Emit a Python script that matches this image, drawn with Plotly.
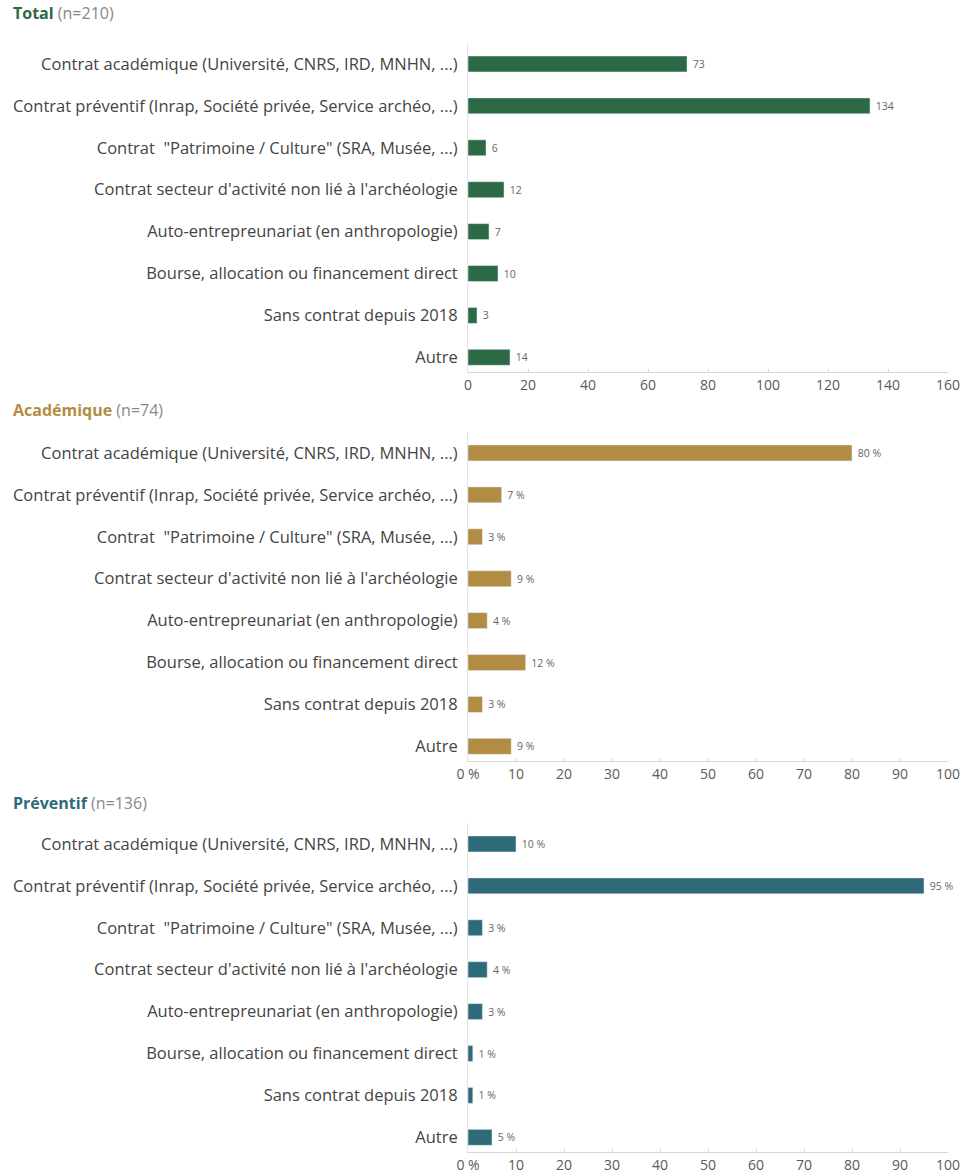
import plotly.graph_objects as go

categories = [
    "Contrat académique (Université, CNRS, IRD, MNHN, ...)",
    "Contrat préventif (Inrap, Société privée, Service archéo, ...)",
    "Contrat  \"Patrimoine / Culture\" (SRA, Musée, ...)",
    "Contrat secteur d'activité non lié à l'archéologie",
    "Auto-entrepreunariat (en anthropologie)",
    "Bourse, allocation ou financement direct",
    "Sans contrat depuis 2018",
    "Autre",
]
total_values = [73, 134, 6, 12, 7, 10, 3, 14]
academique_pct = [80, 7, 3, 9, 4, 12, 3, 9]
preventif_pct = [10, 95, 3, 4, 3, 1, 1, 5]

total_ticks = [0, 20, 40, 60, 80, 100, 120, 140, 160]
pct_ticks = [0, 10, 20, 30, 40, 50, 60, 70, 80, 90, 100]
pct_ticktext = ["0 %"] + [str(t) for t in pct_ticks[1:]]

H = 1174
def py(px):
    return 1 - px / H

panels = [
    dict(vals=total_values, text=["\u00a0" + str(v) for v in total_values], color="#2b6a45",
         title="Total", n="(n=210)", rng=[0, 160], tv=total_ticks, tt=[str(t) for t in total_ticks],
         top=43, bottom=372, ty=13),
    dict(vals=academique_pct, text=[f"\u00a0{v} %" for v in academique_pct], color="#b38c43",
         title="Académique", n="(n=74)", rng=[0, 100], tv=pct_ticks, tt=pct_ticktext,
         top=432, bottom=761, ty=410),
    dict(vals=preventif_pct, text=[f"\u00a0{v} %" for v in preventif_pct], color="#2e6a78",
         title="Préventif", n="(n=136)", rng=[0, 100], tv=pct_ticks, tt=pct_ticktext,
         top=823, bottom=1152, ty=803),
]

fig = go.Figure()
annotations = []
for i, p in enumerate(panels):
    sfx = "" if i == 0 else str(i + 1)
    fig.add_trace(go.Bar(
        x=p["vals"], y=categories, orientation="h",
        marker=dict(color=p["color"]), width=0.38,
        text=p["text"], textposition="outside", cliponaxis=False,
        textfont=dict(size=10.5, color="#666666"),
        xaxis="x" + sfx, yaxis="y" + sfx, showlegend=False,
    ))
    fig.layout["xaxis" + sfx] = dict(
        domain=[0, 1], range=p["rng"], anchor="y" + sfx, automargin=False,
        tickvals=p["tv"], ticktext=p["tt"], showgrid=False, zeroline=False,
        showline=True, linecolor="#d9d9d9", linewidth=1,
        ticks="inside", ticklen=3, tickcolor="#d9d9d9",
        tickfont=dict(size=14, color="#5a5a5a"),
    )
    fig.layout["yaxis" + sfx] = dict(
        domain=[py(p["bottom"]), py(p["top"])], anchor="x" + sfx, automargin=False,
        range=[7.35, -0.5], showgrid=False, showline=True,
        linecolor="#e3e3e3", linewidth=1, ticks="", ticklabelstandoff=6,
        tickfont=dict(size=16.5, color="#444444"),
    )
    annotations.append(dict(
        x=0, y=py(p["ty"]), xref="paper", yref="paper", xanchor="left", yanchor="middle",
        xshift=-457, showarrow=False,
        text=f"<b>{p['title']}</b> <span style='color:#888888'>{p['n']}</span>",
        font=dict(size=16, color=p["color"]),
    ))

fig.update_layout(
    width=976, height=H,
    margin=dict(l=468, r=28, t=0, b=0),
    plot_bgcolor="white", paper_bgcolor="white",
    font=dict(family="Open Sans, sans-serif"),
    annotations=annotations,
)
# page has an 8px body margin by default, drop it so the figure fills the window
fig.write_html("out.html", config={"displayModeBar": False},
               post_script="document.body.style.margin='0';")
